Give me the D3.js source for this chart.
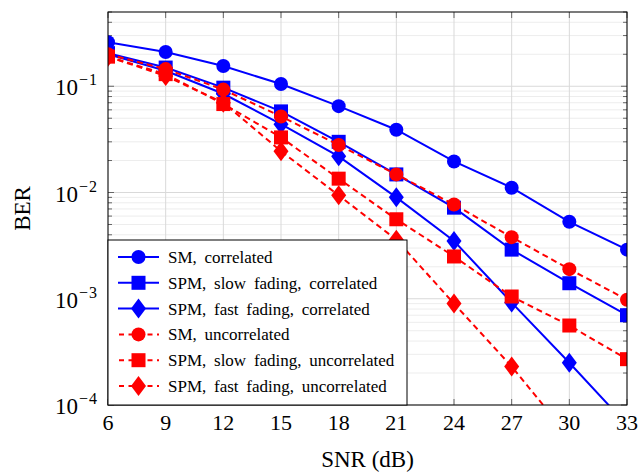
<!DOCTYPE html>
<html>
<head>
<meta charset="utf-8">
<script src="https://cdn.jsdelivr.net/npm/d3@7"></script>
<style>
  body { margin: 0; background: #fff; }
  text { font-family: "Liberation Serif", "Times New Roman", serif; fill: #000; }
</style>
</head>
<body>
<svg></svg>
<script>
// Data
const snr = [6, 9, 12, 15, 18, 21, 24, 27, 30, 33];
const smCorr = [0.26, 0.21, 0.155, 0.105, 0.065, 0.039, 0.0196, 0.0111, 0.0053, 0.0029];
const spmSlowCorr = [0.205, 0.15, 0.097, 0.058, 0.030, 0.0148, 0.0072, 0.0029, 0.0014, 0.0007];
const spmFastCorr = [0.2, 0.14, 0.085, 0.044, 0.0219, 0.009, 0.0035, 0.00092, 0.00025, 0.000065];
const smUncorr = [0.2, 0.145, 0.093, 0.052, 0.028, 0.0148, 0.0077, 0.0038, 0.0019, 0.00098];
const spmSlowUncorr = [0.19, 0.13, 0.068, 0.033, 0.0135, 0.0056, 0.0025, 0.00105, 0.00056, 0.00027];
const spmFastUncorr = [0.19, 0.125, 0.07, 0.0245, 0.0094, 0.0036, 0.0009, 0.00023, 0.00005, 0.000011];
const seriesNames = [
  "SM, correlated",
  "SPM, slow fading, correlated",
  "SPM, fast fading, correlated",
  "SM, uncorrelated",
  "SPM, slow fading, uncorrelated",
  "SPM, fast fading, uncorrelated",
];
const yTickExps = [-4, -3, -2, -1];

const width = 641;
const height = 472;
const margin = { left: 108, right: 14, top: 12, bottom: 67 };

const series = [
  { name: seriesNames[0], values: smCorr, color: "#0000ff", dash: null, marker: "circle" },
  { name: seriesNames[1], values: spmSlowCorr, color: "#0000ff", dash: null, marker: "square" },
  { name: seriesNames[2], values: spmFastCorr, color: "#0000ff", dash: null, marker: "diamond" },
  { name: seriesNames[3], values: smUncorr, color: "#ff0000", dash: "6,4", marker: "circle" },
  { name: seriesNames[4], values: spmSlowUncorr, color: "#ff0000", dash: "6,4", marker: "square" },
  { name: seriesNames[5], values: spmFastUncorr, color: "#ff0000", dash: "6,4", marker: "diamond" },
];

const svg = d3.select("svg").attr("width", width).attr("height", height);

const x = d3.scaleLinear().domain([6, 33]).range([margin.left, width - margin.right]);
const y = d3.scaleLog().domain([1e-4, 0.5]).range([height - margin.bottom, margin.top]);

const x0 = x.range()[0], x1 = x.range()[1];
const y0 = y.range()[0], y1 = y.range()[1];

// Minor and major y values
const minorY = [];
for (let e = -4; e <= -1; e++) {
  for (let m = 2; m <= 9; m++) {
    const v = m * Math.pow(10, e);
    if (v <= 0.5) minorY.push(v);
  }
}
const majorY = yTickExps.map((e) => Math.pow(10, e));

// Grid lines
const grid = svg.append("g");
grid.selectAll(".minor")
  .data(minorY)
  .enter()
  .append("line")
  .attr("x1", x0).attr("x2", x1)
  .attr("y1", (d) => y(d)).attr("y2", (d) => y(d))
  .attr("stroke", "#ededed")
  .attr("stroke-width", 1);
grid.selectAll(".majorY")
  .data(majorY)
  .enter()
  .append("line")
  .attr("x1", x0).attr("x2", x1)
  .attr("y1", (d) => y(d)).attr("y2", (d) => y(d))
  .attr("stroke", "#d9d9d9")
  .attr("stroke-width", 1);
grid.selectAll(".majorX")
  .data(snr)
  .enter()
  .append("line")
  .attr("x1", (d) => x(d)).attr("x2", (d) => x(d))
  .attr("y1", y0).attr("y2", y1)
  .attr("stroke", "#d9d9d9")
  .attr("stroke-width", 1);

// Inner ticks on all four sides
const ticks = svg.append("g").attr("stroke", "#666").attr("stroke-width", 1);
snr.forEach((d) => {
  ticks.append("line").attr("x1", x(d)).attr("x2", x(d)).attr("y1", y0).attr("y2", y0 - 6);
  ticks.append("line").attr("x1", x(d)).attr("x2", x(d)).attr("y1", y1).attr("y2", y1 + 6);
});
majorY.forEach((d) => {
  ticks.append("line").attr("x1", x0).attr("x2", x0 + 6).attr("y1", y(d)).attr("y2", y(d));
  ticks.append("line").attr("x1", x1).attr("x2", x1 - 6).attr("y1", y(d)).attr("y2", y(d));
});
minorY.forEach((d) => {
  ticks.append("line").attr("x1", x0).attr("x2", x0 + 4).attr("y1", y(d)).attr("y2", y(d));
  ticks.append("line").attr("x1", x1).attr("x2", x1 - 4).attr("y1", y(d)).attr("y2", y(d));
});

// Clip for the curves
svg.append("clipPath")
  .attr("id", "plot-clip")
  .append("rect")
  .attr("x", x0).attr("y", y1)
  .attr("width", x1 - x0).attr("height", y0 - y1);

const line = d3.line()
  .x((d, i) => x(snr[i]))
  .y((d) => y(d));

// Marker drawing helper
function drawMarker(g, type, cx, cy, color) {
  if (type === "circle") {
    g.append("circle").attr("cx", cx).attr("cy", cy).attr("r", 7).attr("fill", color);
  } else if (type === "square") {
    g.append("rect").attr("x", cx - 7).attr("y", cy - 7).attr("width", 14).attr("height", 14).attr("fill", color);
  } else {
    g.append("path")
      .attr("d", `M${cx},${cy - 10}L${cx + 7.5},${cy}L${cx},${cy + 10}L${cx - 7.5},${cy}Z`)
      .attr("fill", color);
  }
}

const curves = svg.append("g").attr("clip-path", "url(#plot-clip)");
series.forEach((s) => {
  const g = curves.append("g");
  g.append("path")
    .datum(s.values)
    .attr("d", line)
    .attr("fill", "none")
    .attr("stroke", s.color)
    .attr("stroke-width", 2)
    .attr("stroke-dasharray", s.dash);
  s.values.forEach((v, i) => {
    if (v >= 1e-4) drawMarker(g, s.marker, x(snr[i]), y(v), s.color);
  });
});

// Axis box
svg.append("rect")
  .attr("x", x0).attr("y", y1)
  .attr("width", x1 - x0).attr("height", y0 - y1)
  .attr("fill", "none")
  .attr("stroke", "#000")
  .attr("stroke-width", 1);

// X tick labels
svg.selectAll(".xlabel")
  .data(snr)
  .enter()
  .append("text")
  .attr("x", (d) => x(d))
  .attr("y", 430)
  .attr("text-anchor", "middle")
  .style("font-size", "22px")
  .text((d) => d);

// Y tick labels with superscripts
yTickExps.forEach((e) => {
  const t = svg.append("text")
    .attr("x", 98)
    .attr("y", y(Math.pow(10, e)) + 9)
    .attr("text-anchor", "end")
    .style("font-size", "23px");
  t.append("tspan").text("10");
  t.append("tspan")
    .attr("dy", -10)
    .attr("dx", 1)
    .style("font-size", "16px")
    .style("letter-spacing", "1px")
    .text("\u2212" + Math.abs(e));
});

// Axis titles
svg.append("text")
  .attr("x", (x0 + x1) / 2)
  .attr("y", 467)
  .attr("text-anchor", "middle")
  .style("font-size", "23px")
  .text("SNR (dB)");

svg.append("text")
  .attr("transform", `translate(30, ${(y0 + y1) / 2}) rotate(-90)`)
  .attr("text-anchor", "middle")
  .style("font-size", "23px")
  .text("BER");

// Legend
const legend = svg.append("g");
legend.append("rect")
  .attr("x", x0).attr("y", 240)
  .attr("width", 407 - x0).attr("height", y0 - 240)
  .attr("fill", "#fff")
  .attr("stroke", "#000")
  .attr("stroke-width", 1);

series.forEach((s, i) => {
  const ly = 257 + i * 25.8;
  legend.append("line")
    .attr("x1", 118).attr("x2", 159)
    .attr("y1", ly).attr("y2", ly)
    .attr("stroke", s.color)
    .attr("stroke-width", 2)
    .attr("stroke-dasharray", s.dash ? "5,4.5" : null)
    .attr("stroke-dashoffset", s.dash ? -1 : null);
  drawMarker(legend, s.marker, 138.5, ly, s.color);
  legend.append("text")
    .attr("x", 168)
    .attr("y", ly + 6)
    .style("font-size", "17px")
    .style("word-spacing", "3.5px")
    .text(s.name);
});
</script>
</body>
</html>
